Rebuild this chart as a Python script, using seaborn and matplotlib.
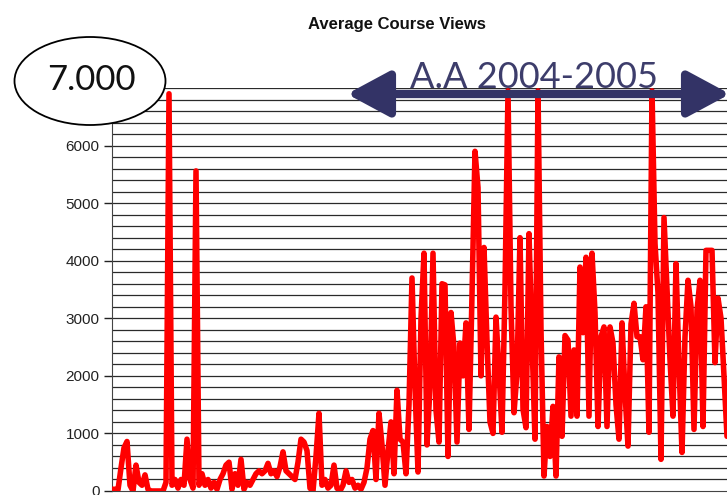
import numpy as np
import pandas as pd
import matplotlib
matplotlib.use("Agg")
import matplotlib.pyplot as plt
import seaborn as sns
from matplotlib.patches import Ellipse, FancyArrowPatch

# Average views per period
views = [
    30, 30, 20, 400, 750, 860, 100, 0, 450, 150,
    100, 280, 30, 0, 0, 0, 0, 0, 150, 6900,
    100, 200, 50, 200, 100, 900, 200, 50, 5560, 100,
    300, 100, 200, 50, 150, 30, 200, 300, 450, 500,
    30, 300, 100, 550, 30, 150, 100, 200, 300, 350,
    300, 350, 480, 300, 350, 250, 420, 680, 350, 300,
    250, 200, 500, 900, 850, 700, 50, 0, 600, 1350,
    100, 200, 50, 100, 450, 50, 0, 100, 350, 150,
    200, 50, 100, 30, 150, 400, 900, 1050, 200, 1350,
    800, 100, 700, 1200, 300, 1750, 900, 850, 300, 1500,
    3700, 1800, 330, 3000, 4130, 800, 1800, 4130, 1400, 850,
    3600, 3580, 600, 3100, 2500, 850, 2570, 2000, 2920, 1070,
    3400, 5900, 5270, 2000, 4230, 2600, 1200, 1000, 3020, 2100,
    1020, 3500, 6950, 3200, 1360, 2050, 4400, 1420, 1100, 4470,
    2600, 900, 6950, 2800, 260, 1120, 600, 1470, 260, 2330,
    950, 2700, 2620, 1300, 2450, 1300, 3890, 2750, 4060, 1300,
    4130, 3100, 1120, 2680, 2850, 1120, 2850, 2570, 1500, 900,
    2920, 1710, 780, 2900, 3260, 2680, 2680, 2280, 3200, 1020,
    6950, 4300, 3440, 550, 4750, 3500, 2280, 1300, 3950, 2200,
    670, 2680, 3660, 3200, 1070, 3140, 3660, 1120, 4180, 4180,
    4180, 2230, 3350, 3000, 2000, 950,
]
y_ticks = [0, 1000, 2000, 3000, 4000, 5000, 6000]
title = "Average Course Views"
max_label = "7.000"
period_label = "A.A 2004-2005"

df = pd.DataFrame({"period": np.arange(len(views)), "views": views})

sns.set_style("white")
plt.rcParams["font.family"] = ["Liberation Sans", "DejaVu Sans"]

fig = plt.figure(figsize=(7.27, 4.95), dpi=100)
ax = fig.add_axes([112 / 727, 4 / 495, 615 / 727, 403 / 495])

# horizontal grid every 200 views
for v in range(200, 7001, 200):
    ax.axhline(v, color="#2a2a2a", lw=0.9, zorder=1)

sns.lineplot(data=df, x="period", y="views", color="#ff0000", lw=4,
             ax=ax, zorder=3, solid_joinstyle="round")

ax.set_xlim(0, len(views) - 1)
ax.set_ylim(0, 7000)
ax.set_yticks(y_ticks)
ax.set_yticklabels([str(t) for t in y_ticks], fontsize=11, color="#222222")
ax.tick_params(axis="y", direction="out", length=6, width=1, color="#222222", left=True, pad=3)
ax.set_xticks([])
ax.set_xlabel("")
ax.set_ylabel("")
for side in ["top", "right"]:
    ax.spines[side].set_visible(False)
ax.spines["left"].set_color("#444444")
ax.spines["bottom"].set_color("#444444")

fig.text(397 / 727, 1 - 25 / 495, title, ha="center", va="center",
         fontsize=12, fontweight="bold", color="#111111")

# ellipse with the max value
ell = Ellipse((90 / 727, 1 - 81 / 495), 151 / 727, 88 / 495,
              transform=fig.transFigure, facecolor="white", edgecolor="black",
              lw=1.3, zorder=10)
fig.patches.append(ell)
fig.text(91 / 727, 1 - 80 / 495, max_label, ha="center", va="center",
         fontsize=25, color="#111111", family=["Lato", "DejaVu Sans"], zorder=11)

# double arrow for the academic year
arrow = FancyArrowPatch((347 / 727, 1 - 94 / 495), (730 / 727, 1 - 94 / 495),
                        transform=fig.transFigure,
                        arrowstyle="<|-|>,head_length=1.3,head_width=0.7",
                        mutation_scale=20, color="#333366", lw=6,
                        shrinkA=0, shrinkB=0, zorder=9)
fig.patches.append(arrow)
fig.text(534 / 727, 1 - 77 / 495, period_label, ha="center", va="center",
         fontsize=26, color="#3d3d6b", family=["Lato", "DejaVu Sans"], zorder=11)

fig.savefig("out.png", dpi=100)
